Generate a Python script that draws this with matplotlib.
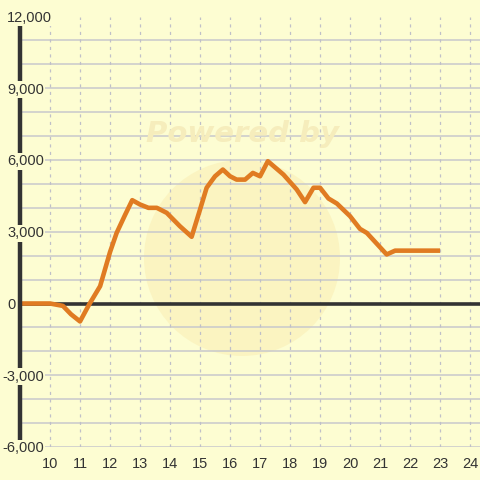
import matplotlib.pyplot as plt
from matplotlib.patches import Circle

# Hourly trace (hour of day, value)
hours = [9.0, 10.0, 10.43, 10.7, 11.0, 11.3, 11.67, 12.0, 12.22, 12.5, 12.74,
         13.0, 13.28, 13.56, 13.89, 14.33, 14.72, 15.0, 15.22, 15.5, 15.76,
         16.0, 16.22, 16.5, 16.76, 17.0, 17.26, 17.78, 18.22, 18.5, 18.78,
         19.0, 19.28, 19.56, 20.0, 20.33, 20.56, 21.22, 21.5, 23.0]
values = [0, 0, -100, -450, -750, -50, 725, 2150, 2950, 3700, 4320,
          4140, 4000, 4000, 3790, 3230, 2790, 3930, 4840, 5320, 5600,
          5320, 5180, 5180, 5460, 5320, 5950, 5390, 4770, 4240, 4840,
          4840, 4390, 4180, 3650, 3120, 2950, 2050, 2210, 2210]

y_labels = [12000, 9000, 6000, 3000, 0, -3000, -6000]
x_ticks = list(range(10, 25))

bg = "#FDFDD2"
txt = "#333333"

plt.rcParams['font.family'] = ['Liberation Sans', 'DejaVu Sans']

fig = plt.figure(figsize=(4.8, 4.8), dpi=100, facecolor=bg)
ax = fig.add_axes([20/480, 33/480, 460/480, 430.5/480])
ax.set_facecolor(bg)

# faint watermark
ax.add_patch(Circle((242/480, 1 - 258/480), 98/480, transform=fig.transFigure,
                    facecolor="#FBF3BE", edgecolor="none", alpha=0.85, zorder=0.5))
fig.text(243/480, 1 - 134/480, "Powered by", ha="center", va="center",
         fontsize=21, fontweight="bold", fontstyle="italic", color="#F6EDBC",
         family="DejaVu Sans", zorder=0.6)

ax.set_xlim(9.0, 24.33)
ax.set_ylim(-6000, 12000)

for v in range(-6000, 12001, 1000):
    ax.axhline(v, color="#C8C8CC", lw=1.1, zorder=1)
for h in x_ticks:
    ax.axvline(h, color="#C0C0C8", lw=0.9, ls=(0, (2.5, 3.5)), zorder=1)

ax.axhline(0, color=txt, lw=2.6, zorder=2)
ax.plot(hours, values, color="#E07B22", lw=3.3, solid_joinstyle="round",
        solid_capstyle="butt", zorder=3)

for s in ["top", "right", "bottom"]:
    ax.spines[s].set_visible(False)
ax.spines["left"].set_color(txt)
ax.spines["left"].set_linewidth(3.2)
ax.spines["left"].set_bounds(-6000, 11700)
ax.spines["left"].set_zorder(4)

ax.set_yticks([])
ax.set_xticks(x_ticks)
ax.set_xticklabels([str(h) for h in x_ticks], fontsize=10.5, color=txt)
ax.tick_params(axis="x", length=0, pad=7)

for v in y_labels:
    label = f"{v:,}"
    xpos = -18/460 if v < 0 else -13/460
    ax.text(xpos, v, label, transform=ax.get_yaxis_transform(), ha="left",
            va="center_baseline", fontsize=10.5, color=txt, clip_on=False,
            zorder=5, bbox=dict(facecolor=bg, edgecolor="none", pad=1.0))

fig.savefig("out.png", dpi=100, facecolor=bg)
